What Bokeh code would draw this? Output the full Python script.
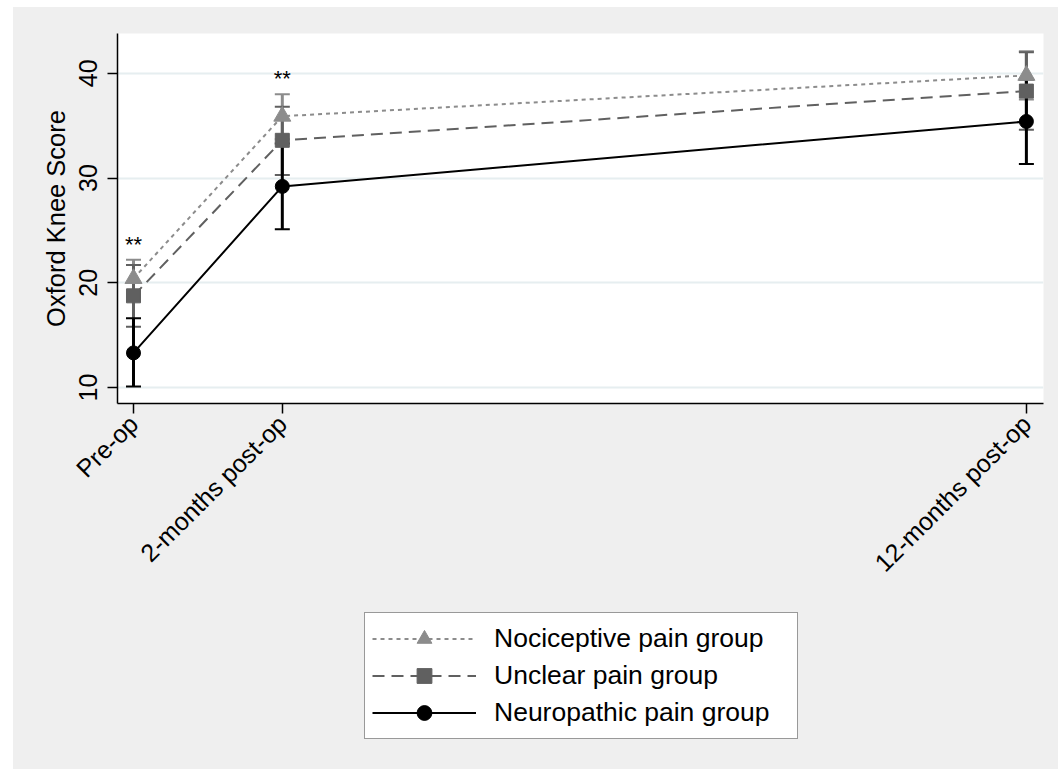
import math
from bokeh.plotting import figure
from bokeh.layouts import column
from bokeh.models import FixedTicker, Legend, LegendItem, Range1d
from bokeh.embed import file_html
from bokeh.resources import INLINE
from bokeh.core.properties import value

# ---- data ----
months = [0, 2, 12]
time_labels = ["Pre-op", "2-months post-op", "12-months post-op"]
groups = ["Nociceptive pain group", "Unclear pain group", "Neuropathic pain group"]

noci_mean = [20.4, 35.9, 39.8]
noci_low = [18.6, 33.7, 37.5]
noci_high = [22.2, 38.0, 42.1]

unclear_mean = [18.75, 33.6, 38.3]
unclear_low = [15.8, 30.3, 34.6]
unclear_high = [21.7, 36.8, 42.0]

neuro_mean = [13.3, 29.2, 35.4]
neuro_low = [10.1, 25.1, 31.35]
neuro_high = [16.6, 33.3, 39.4]

sig_x = [0, 2]
sig_y = [23.7, 39.5]
sig_text = ["**", "**"]

y_ticks = [10, 20, 30, 40]

FONT = "Liberation Sans"
BG = "#efefef"

p = figure(width=1045, height=583, margin=0,
           x_range=Range1d(-0.215, 12.23), y_range=Range1d(8.47, 43.8),
           output_backend="svg", toolbar_location=None,
           min_border_left=104, min_border_right=15, min_border_top=26,
           min_border_bottom=187,
           background_fill_color="white", border_fill_color=BG,
           outline_line_color=None)

p.xgrid.visible = False
p.ygrid.grid_line_color = "#e6eef0"
p.ygrid.grid_line_width = 2

for ax in (p.xaxis[0], p.yaxis[0]):
    ax.axis_line_color = "black"
    ax.axis_line_width = 1.5
    ax.major_tick_line_color = "black"
    ax.major_tick_line_width = 1.5
    ax.major_tick_out = 10
    ax.major_tick_in = 0
    ax.minor_tick_line_color = None
    ax.major_label_text_font = FONT
    ax.major_label_text_font_size = "25px"
    ax.major_label_text_color = "black"
    ax.axis_label_text_font = FONT
    ax.axis_label_text_font_size = "25.5px"
    ax.axis_label_text_font_style = "normal"
    ax.axis_label_text_color = "black"

p.yaxis.ticker = FixedTicker(ticks=y_ticks)
p.yaxis.major_label_orientation = "vertical"
p.yaxis.major_label_standoff = 10
p.yaxis.axis_label = "Oxford Knee Score"
p.yaxis.axis_label_standoff = 7

p.xaxis.ticker = FixedTicker(ticks=months)
p.xaxis.major_label_overrides = {m: l for m, l in zip(months, time_labels)}
p.xaxis.major_label_orientation = math.pi / 4
p.xaxis.major_label_standoff = 6

specs = [
    (noci_mean, noci_low, noci_high, "#8c8c8c", "4 4", "triangle", 17),
    (unclear_mean, unclear_low, unclear_high, "#606060", "12 7", "square", 14),
    (neuro_mean, neuro_low, neuro_high, "black", "solid", "circle", 14),
]

# error bars
for mean, lo, hi, color, dash, marker, size in specs:
    p.segment(x0=months, y0=lo, x1=months, y1=hi, line_color=color, line_width=3)
    p.scatter(x=months + months, y=lo + hi, marker="dash", size=15,
              line_color=color, line_width=2)

for mean, lo, hi, color, dash, marker, size in specs:
    p.line(months, mean, line_color=color, line_width=2, line_dash=dash)

for mean, lo, hi, color, dash, marker, size in specs:
    p.scatter(months, mean, marker=marker, size=size,
              fill_color=color, line_color=color)

p.text(x=sig_x, y=sig_y, text=sig_text, text_font=value(FONT),
       text_font_size="22px", text_align="center", text_baseline="middle",
       text_color="black")

# ---- legend panel (separate figure below the chart) ----
pl = figure(width=1045, height=179, margin=0,
            x_range=Range1d(100, 101), y_range=Range1d(100, 101),
            x_axis_type=None, y_axis_type=None,
            output_backend="svg", toolbar_location=None,
            min_border=0, background_fill_color=None, border_fill_color=BG,
            outline_line_color=None)
pl.xgrid.visible = False
pl.ygrid.visible = False

items = []
for g, (mean, lo, hi, color, dash, marker, size) in zip(groups, specs):
    lr = pl.line(months, mean, line_color=color, line_width=2, line_dash=dash)
    mr = pl.scatter(months, mean, marker=marker, size=size,
                    fill_color=color, line_color=color)
    items.append(LegendItem(label=g, renderers=[lr, mr]))

legend = Legend(items=items, location=(247, 30), orientation="vertical",
                glyph_width=104, glyph_height=37, spacing=0, padding=7,
                label_standoff=18, label_width=296, margin=0,
                label_text_font=FONT, label_text_font_size="26.5px",
                label_text_color="black",
                border_line_color="#333333", border_line_width=1.5,
                background_fill_color="white", background_fill_alpha=1.0)
pl.add_layout(legend)

layout = column(p, pl, spacing=0, margin=(7, 0, 0, 13),
                styles={"background-color": BG})
open("out.html", "w").write(file_html(layout, INLINE))
